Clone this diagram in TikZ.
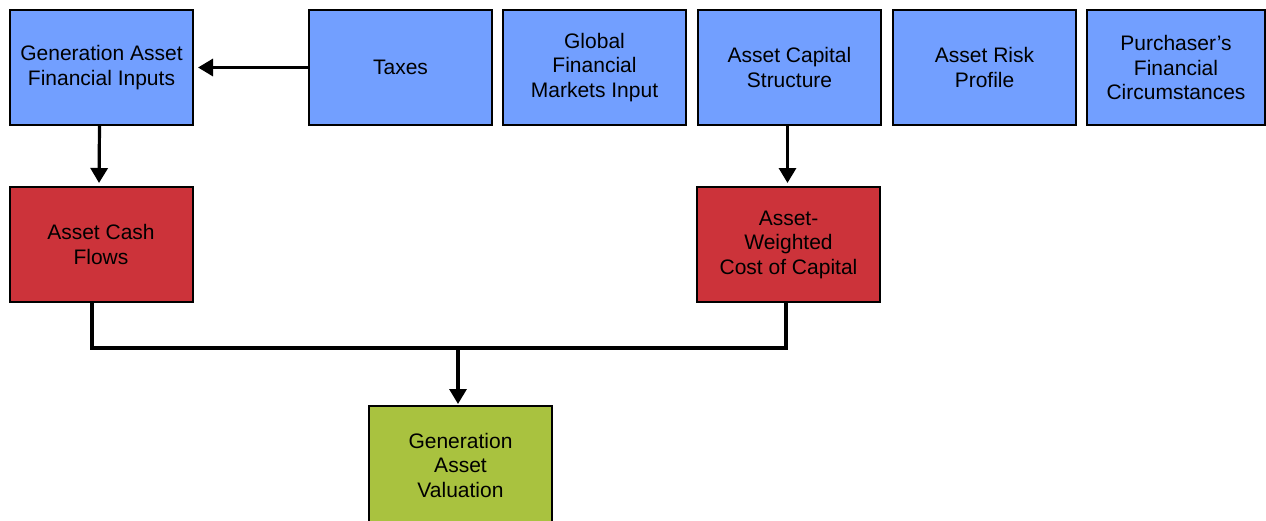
\documentclass[tikz,border=0pt]{standalone}
\usepackage{fontspec}
\setmainfont{Liberation Sans}
\usetikzlibrary{arrows.meta}
\definecolor{boxblue}{RGB}{114,159,255}
\definecolor{boxred}{RGB}{204,51,58}
\definecolor{boxgreen}{RGB}{169,194,63}
\tikzset{
  box/.style={draw=black, line width=2pt, minimum width=183pt, minimum height=115pt,
    align=center, inner sep=2pt, font=\fontsize{21pt}{24.5pt}\selectfont, text=black},
  bluebox/.style={box, fill=boxblue},
  redbox/.style={box, fill=boxred},
  greenbox/.style={box, fill=boxgreen},
  conn/.style={line width=3.2pt, draw=black},
  arr/.style={conn, -{Triangle[length=15pt,width=17pt]}},
}
\begin{document}
\begin{tikzpicture}[x=1pt,y=-1pt]
\useasboundingbox (0,0) rectangle (1266,520);
\begin{scope}
\clip (0,0) rectangle (1266,520);
\node[bluebox] (gafi) at (101.5,67.5) {Generation Asset\\Financial Inputs};
\node[bluebox] (taxes) at (400.5,67.5) {Taxes};
\node[bluebox] (gfmi) at (594.5,67.5) {Global\\Financial\\Markets Input};
\node[bluebox] (acs) at (789.5,67.5) {Asset Capital\\Structure};
\node[bluebox] (arp) at (984.5,67.5) {Asset Risk\\Profile};
\node[bluebox, minimum width=178pt] (pfc) at (1176,67.5) {Purchaser’s\\Financial\\Circumstances};
\node[redbox] (acf) at (101,244.5) {Asset Cash\\Flows};
\node[redbox] (awcc) at (788.5,244.5) {Asset-\\Weighted\\Cost of Capital};
\node[greenbox, minimum height=118pt] (gav) at (460.5,465) {Generation\\Asset\\Valuation};
\end{scope}
\coordinate (jn) at (458,348);
\draw[arr, shorten >=4pt] (taxes.west) -- (gafi.east);
\draw[arr, shorten >=3pt] ([xshift=-2pt]gafi.south) -- ([xshift=-2pt]acf.north);
\draw[arr, shorten >=3pt] ([xshift=-2pt]acs.south) -- ([xshift=-1pt]awcc.north);
\draw[conn] ([xshift=-9pt]acf.south) |- (jn) -| ([xshift=-2.5pt]awcc.south);
\draw[arr, shorten >=1pt] (jn) -- (jn |- gav.north);
\end{tikzpicture}
\end{document}
